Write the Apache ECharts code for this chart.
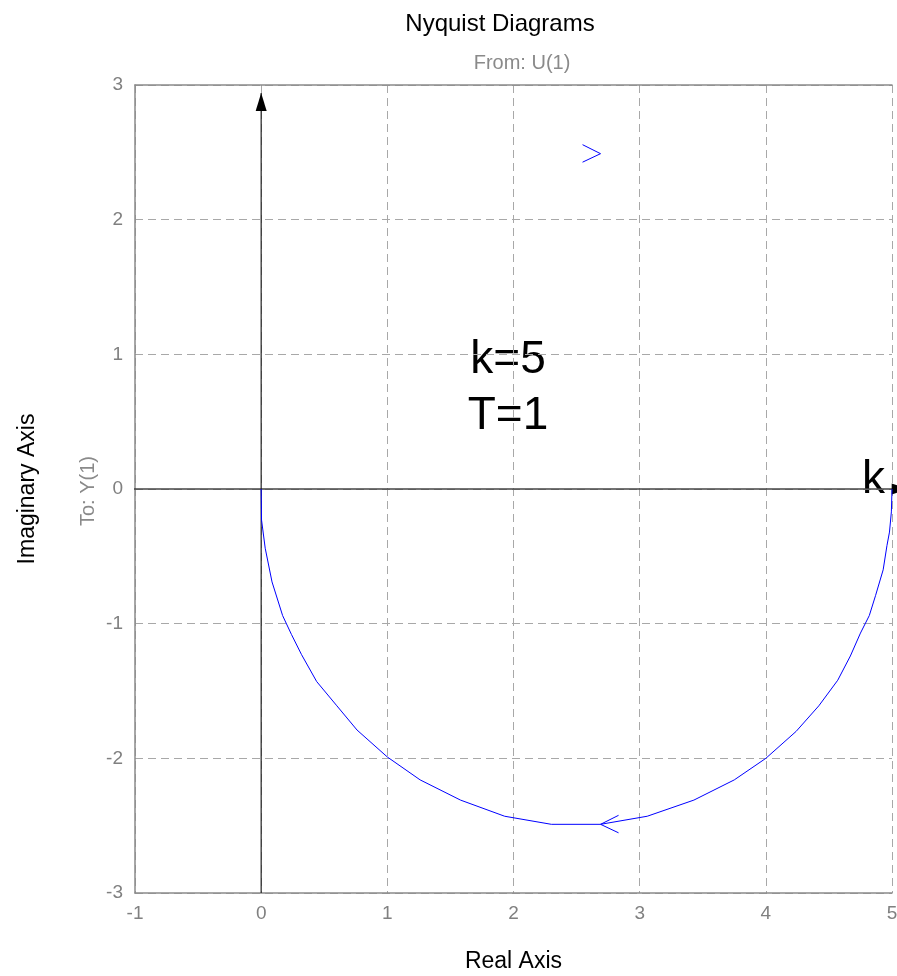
<!DOCTYPE html>
<html>
<head>
<meta charset="utf-8">
<script src="https://cdn.jsdelivr.net/npm/echarts@6/dist/echarts.min.js"></script>
<style>
  html, body { margin: 0; padding: 0; background: #fff; }
  #chart { width: 897px; height: 976px; }
</style>
</head>
<body>
<div id="chart"></div>
<script>
// Nyquist locus of G(s) = k / (T s + 1), k = 5, T = 1 (points along the plot)
const realPart = [5.0, 4.995, 4.98, 4.96, 4.93, 4.87, 4.82, 4.75, 4.67, 4.57, 4.42, 4.24, 4.0,
  3.75, 3.43, 3.06, 2.69, 2.3, 1.93, 1.58, 1.26, 1.0, 0.76, 0.6, 0.44, 0.32, 0.24, 0.17,
  0.086, 0.032, 0.003, 0];
const imagPart = [0, -0.17, -0.32, -0.42, -0.6, -0.79, -0.94, -1.07, -1.24, -1.42, -1.61, -1.8, -2.0,
  -2.16, -2.31, -2.43, -2.49, -2.49, -2.43, -2.31, -2.16, -1.99, -1.79, -1.61, -1.43, -1.23, -1.08, -0.94,
  -0.69, -0.44, -0.23, 0];

// direction chevrons on the locus (tip position, +1 points right, -1 points left)
const chevronRe = [2.69, 2.69];
const chevronIm = [-2.49, 2.49];
const chevronDir = [-1, 1];

// drawn coordinate axes (real / imaginary) with filled arrowheads
const realAxisLine = [[-1.03, 0], [5.0, 0]];
const imagAxisLine = [[0, -3], [0, 2.94]];
const headRe = [0, 5.14];
const headIm = [2.94, 0];
const headDirX = [0, 1];
const headDirY = [1, 0];

// axis ticks
const xTicks = [-1, 0, 1, 2, 3, 4, 5];
const yTicks = [-3, -2, -1, 0, 1, 2, 3];

const FONT = '"Liberation Sans", Arial, sans-serif';

const curve = realPart.map((x, i) => [x, imagPart[i]]);
const chevrons = chevronRe.map((x, i) => [x, chevronIm[i], chevronDir[i]]);
const heads = headRe.map((x, i) => [x, headIm[i], headDirX[i], headDirY[i]]);

const chart = echarts.init(document.getElementById('chart'), null, { renderer: 'canvas' });

const gridLine = { show: true, lineStyle: { color: '#a8a8a8', width: 1, type: [8, 5] } };
const frameLine = { show: true, lineStyle: { color: '#8a8a8a', width: 1.5 } };

chart.setOption({
  animation: false,
  backgroundColor: '#fff',
  title: [
    {
      text: 'Nyquist Diagrams', left: 495, top: 7, textAlign: 'center',
      textStyle: { fontFamily: FONT, fontSize: 24, fontWeight: 'normal', color: '#000' }
    },
    {
      text: 'From: U(1)', left: 517, top: 48, textAlign: 'center',
      textStyle: { fontFamily: FONT, fontSize: 20, fontWeight: 'normal', color: '#8a8a8a' }
    }
  ],
  grid: { left: 135, top: 85, width: 757, height: 808, outerBoundsMode: 'none', containLabel: false },
  xAxis: [
    {
      type: 'value', min: xTicks[0], max: xTicks[xTicks.length - 1], interval: 1,
      name: 'Real Axis', nameLocation: 'middle', nameGap: 57,
      nameTextStyle: { fontFamily: FONT, fontSize: 23, color: '#000' },
      axisLine: Object.assign({ onZero: false }, frameLine), axisTick: { show: false },
      axisLabel: { fontFamily: FONT, fontSize: 19, color: '#808080', margin: 11 },
      splitLine: gridLine
    },
    {
      type: 'value', position: 'top', min: xTicks[0], max: xTicks[xTicks.length - 1], interval: 1,
      axisLine: Object.assign({ onZero: false }, frameLine), axisTick: { show: false },
      axisLabel: { show: false }, splitLine: { show: false }
    }
  ],
  yAxis: {
    type: 'value', min: yTicks[0], max: yTicks[yTicks.length - 1], interval: 1,
    name: 'Imaginary Axis', nameLocation: 'middle', nameGap: 96, nameRotate: 90,
    nameTextStyle: { fontFamily: FONT, fontSize: 23, color: '#000' },
    axisLine: Object.assign({ onZero: false }, frameLine), axisTick: { show: false },
    axisLabel: { fontFamily: FONT, fontSize: 19, color: '#808080', margin: 12 },
    splitLine: gridLine
  },
  graphic: [
    {
      type: 'text', x: 88, y: 491, rotation: Math.PI / 2,
      style: { text: 'To: Y(1)', font: '20px ' + FONT, fill: '#8a8a8a', align: 'center', verticalAlign: 'middle' }
    },
    {
      type: 'text', x: 508, y: 337,
      style: { text: 'k=5', font: '46px ' + FONT, fill: '#000', align: 'center', verticalAlign: 'alphabetic' }
    },
    {
      type: 'text', x: 508, y: 393,
      style: { text: 'T=1', font: '46px ' + FONT, fill: '#000', align: 'center', verticalAlign: 'alphabetic' }
    },
    {
      type: 'text', x: 862, y: 457,
      style: { text: 'k', font: '46px ' + FONT, fill: '#000', align: 'left', verticalAlign: 'alphabetic' }
    }
  ],
  series: [
    {
      type: 'line', data: realAxisLine, clip: false, showSymbol: false, silent: true,
      lineStyle: { color: '#444', width: 1.5 }, z: 3
    },
    {
      type: 'line', data: imagAxisLine, clip: false, showSymbol: false, silent: true,
      lineStyle: { color: '#222', width: 1.2 }, z: 3
    },
    {
      type: 'custom', data: heads, clip: false, silent: true, z: 4,
      renderItem: function (params, api) {
        const p = api.coord([api.value(0), api.value(1)]);
        const dx = api.value(2), dy = -api.value(3);
        const bx = p[0] - 18 * dx, by = p[1] - 18 * dy;
        const nx = -dy * 5.5, ny = dx * 5.5;
        return {
          type: 'polygon',
          shape: { points: [[p[0], p[1]], [bx + nx, by + ny], [bx - nx, by - ny]] },
          style: { fill: '#000' }
        };
      }
    },
    {
      type: 'line', data: curve, showSymbol: false, silent: true,
      lineStyle: { color: '#0000ff', width: 1 }, z: 5
    },
    {
      type: 'custom', data: chevrons, clip: false, silent: true, z: 5,
      renderItem: function (params, api) {
        const p = api.coord([api.value(0), api.value(1)]);
        const d = api.value(2);
        return {
          type: 'polyline',
          shape: { points: [[p[0] - 18 * d, p[1] - 9], [p[0], p[1]], [p[0] - 18 * d, p[1] + 8.5]] },
          style: { stroke: '#0000ff', lineWidth: 1, fill: null }
        };
      }
    }
  ]
});
</script>
</body>
</html>
